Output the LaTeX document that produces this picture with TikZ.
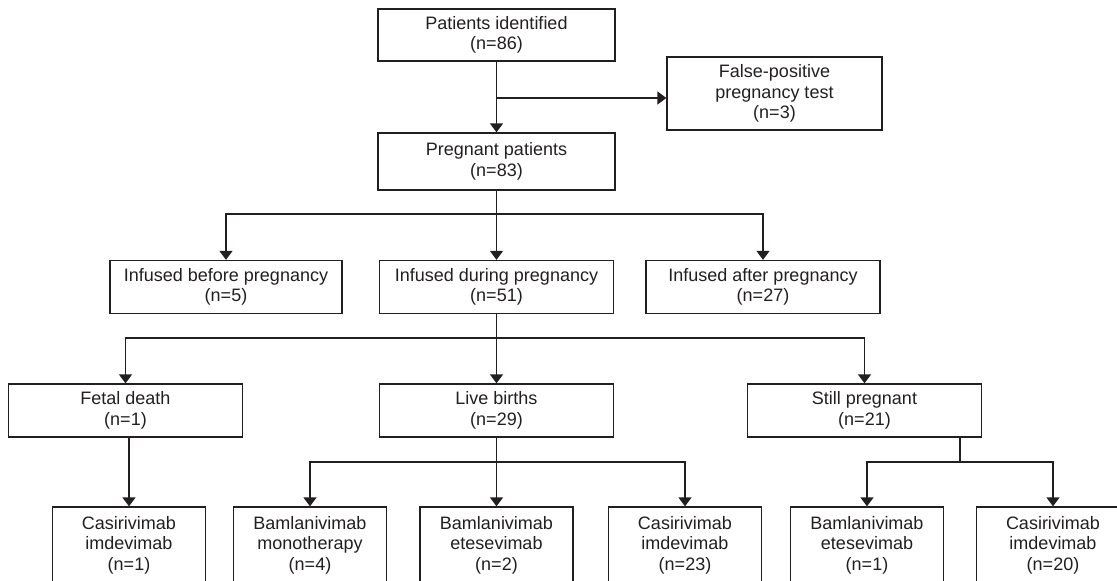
\documentclass[tikz,border=0pt]{standalone}
\usepackage{fontspec}
\setmainfont{Liberation Sans}
\usetikzlibrary{arrows.meta}
\definecolor{ink}{HTML}{231F20}
\begin{document}
\begin{tikzpicture}[x=1pt,y=-1pt,
  box/.style={draw=ink, text=ink, line width=1.3pt, align=center, inner sep=0pt,
    font=\fontsize{18}{20.5}\selectfont},
  w234/.style={minimum width=234pt, minimum height=53pt},
  bot/.style={minimum width=153pt, minimum height=76pt},
  link/.style={draw=ink, line width=1.3pt},
  arr/.style={link, -{Triangle[width=13pt,length=9pt]}}]
\clip (0,0) rectangle (1117,581);
\fill[white] (0,0) rectangle (1117,581);

\node[box, minimum width=237pt, minimum height=52pt] (pid) at (496.5,35) {Patients identified\\(n=86)};
\node[box, minimum width=215pt, minimum height=73pt] (fp) at (774.5,93.5) {False-positive\\pregnancy test\\(n=3)};
\node[box, minimum width=237pt, minimum height=57pt] (preg) at (496.5,161.5) {Pregnant patients\\(n=83)};

\node[box, w234, minimum width=232pt] (bef) at (226,287) {Infused before pregnancy\\(n=5)};
\node[box, w234] (dur) at (496.5,287) {Infused during pregnancy\\(n=51)};
\node[box, w234] (aft) at (763,287) {Infused after pregnancy\\(n=27)};

\node[box, w234] (fet) at (125.5,410.5) {Fetal death\\(n=1)};
\node[box, w234] (live) at (496.5,410.5) {Live births\\(n=29)};
\node[box, w234] (still) at (864.5,410.5) {Still pregnant\\(n=21)};

\node[box, bot] (cas1) at (129,545) {Casirivimab\\imdevimab\\(n=1)};
\node[box, bot] (mono) at (310,545) {Bamlanivimab\\monotherapy\\(n=4)};
\node[box, bot] (ete2) at (496.5,545) {Bamlanivimab\\etesevimab\\(n=2)};
\node[box, bot] (cas23) at (685,545) {Casirivimab\\imdevimab\\(n=23)};
\node[box, bot] (ete1) at (867,545) {Bamlanivimab\\etesevimab\\(n=1)};
\node[box, bot] (cas20) at (1053,545) {Casirivimab\\imdevimab\\(n=20)};

% level 1
\draw[arr] (pid) -- (preg);
\coordinate (j0) at (496.5,98);
\draw[arr] (j0) -- (j0 -| fp.west);

% level 2
\coordinate (j1) at (496.5,214);
\draw[link] (preg.south) -- (j1);
\draw[arr] (j1) -| (bef.north);
\draw[arr] (j1) -- (dur.north);
\draw[arr] (j1) -| (aft.north);

% level 3
\coordinate (j2) at (496.5,338);
\draw[link] (dur.south) -- (j2);
\draw[arr] (j2) -| (fet.north);
\draw[arr] (j2) -- (live.north);
\draw[arr] (j2) -| (still.north);

% level 4
\draw[arr] (fet.south -| cas1.north) -- (cas1.north);
\coordinate (j3) at (496.5,462);
\draw[link] (live.south) -- (j3);
\draw[arr] (j3) -| (mono.north);
\draw[arr] (j3) -- (ete2.north);
\draw[arr] (j3) -| (cas23.north);
\coordinate (s0) at (960,437);
\coordinate (j4) at (960,462);
\draw[link] (s0) -- (j4);
\draw[arr] (j4) -| (ete1.north);
\draw[arr] (j4) -| (cas20.north);
\end{tikzpicture}
\end{document}
